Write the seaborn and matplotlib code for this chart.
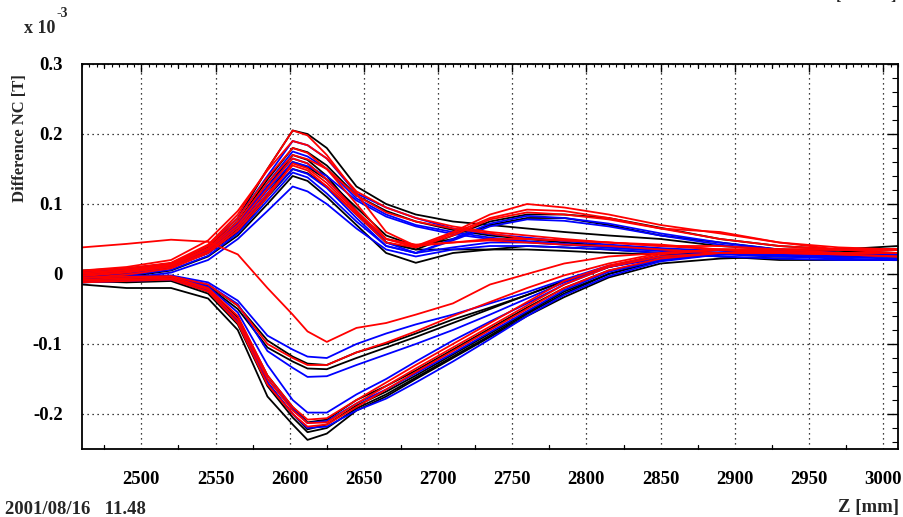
import numpy as np
import pandas as pd
import matplotlib
matplotlib.use("Agg")
import matplotlib.pyplot as plt
from matplotlib.ticker import MultipleLocator, FixedLocator
import seaborn as sns

# Z positions (mm) shared by every measured curve
z_mm = [2460, 2490, 2520, 2545, 2565, 2585, 2602, 2612, 2625, 2645, 2665,
        2685, 2710, 2735, 2760, 2785, 2815, 2850, 2890, 2930, 2970, 3010]

# field difference, in units of 1e-3 T
black_curves = [
    [0.005, 0.008, 0.015, 0.040, 0.080, 0.150, 0.205, 0.200, 0.180, 0.125, 0.100, 0.085, 0.075, 0.070, 0.065, 0.060, 0.055, 0.050, 0.040, 0.035, 0.030, 0.030],
    [0.000, 0.004, 0.012, 0.035, 0.070, 0.125, 0.170, 0.163, 0.140, 0.090, 0.045, 0.035, 0.055, 0.075, 0.085, 0.085, 0.080, 0.066, 0.050, 0.040, 0.035, 0.035],
    [-0.005, 0.000, 0.010, 0.030, 0.065, 0.115, 0.160, 0.153, 0.135, 0.095, 0.055, 0.040, 0.050, 0.070, 0.080, 0.080, 0.070, 0.055, 0.045, 0.035, 0.030, 0.030],
    [0.002, 0.006, 0.014, 0.038, 0.075, 0.135, 0.180, 0.174, 0.155, 0.112, 0.090, 0.075, 0.063, 0.055, 0.050, 0.045, 0.040, 0.035, 0.030, 0.025, 0.025, 0.025],
    [-0.008, -0.004, 0.005, 0.025, 0.055, 0.100, 0.140, 0.133, 0.110, 0.070, 0.030, 0.016, 0.030, 0.035, 0.040, 0.038, 0.035, 0.030, 0.025, 0.020, 0.020, 0.020],
    [-0.003, 0.002, 0.010, 0.030, 0.060, 0.110, 0.150, 0.144, 0.125, 0.085, 0.045, 0.035, 0.035, 0.035, 0.035, 0.033, 0.030, 0.028, 0.030, 0.030, 0.035, 0.040],
    [-0.015, -0.020, -0.020, -0.035, -0.080, -0.175, -0.215, -0.237, -0.228, -0.195, -0.175, -0.150, -0.120, -0.090, -0.060, -0.033, -0.005, 0.015, 0.022, 0.025, 0.025, 0.025],
    [-0.010, -0.008, -0.006, -0.022, -0.062, -0.145, -0.190, -0.212, -0.208, -0.180, -0.160, -0.138, -0.108, -0.078, -0.048, -0.020, 0.005, 0.020, 0.030, 0.030, 0.030, 0.030],
    [-0.012, -0.010, -0.008, -0.025, -0.068, -0.155, -0.200, -0.222, -0.215, -0.188, -0.168, -0.145, -0.115, -0.085, -0.055, -0.025, 0.000, 0.020, 0.030, 0.033, 0.033, 0.030],
    [-0.006, -0.005, -0.004, -0.016, -0.045, -0.095, -0.118, -0.128, -0.130, -0.112, -0.100, -0.085, -0.065, -0.048, -0.030, -0.010, 0.010, 0.025, 0.030, 0.030, 0.030, 0.030],
    [-0.008, -0.006, -0.005, -0.018, -0.050, -0.105, -0.125, -0.135, -0.136, -0.120, -0.105, -0.090, -0.070, -0.050, -0.030, -0.010, 0.010, 0.025, 0.030, 0.030, 0.030, 0.030],
    [-0.010, -0.012, -0.010, -0.028, -0.072, -0.160, -0.205, -0.226, -0.220, -0.192, -0.172, -0.148, -0.118, -0.088, -0.057, -0.028, 0.000, 0.020, 0.030, 0.030, 0.030, 0.030],
]

blue_curves = [
    [0.003, 0.007, 0.015, 0.040, 0.080, 0.140, 0.190, 0.184, 0.165, 0.115, 0.095, 0.080, 0.065, 0.057, 0.052, 0.047, 0.042, 0.037, 0.033, 0.030, 0.028, 0.027],
    [-0.010, -0.006, 0.002, 0.020, 0.050, 0.090, 0.125, 0.118, 0.100, 0.065, 0.035, 0.025, 0.035, 0.040, 0.040, 0.038, 0.035, 0.030, 0.025, 0.022, 0.020, 0.020],
    [0.000, 0.004, 0.013, 0.036, 0.072, 0.125, 0.165, 0.158, 0.135, 0.090, 0.045, 0.030, 0.050, 0.072, 0.083, 0.080, 0.072, 0.058, 0.045, 0.035, 0.030, 0.028],
    [-0.004, 0.000, 0.010, 0.030, 0.062, 0.112, 0.150, 0.143, 0.123, 0.080, 0.040, 0.030, 0.048, 0.068, 0.078, 0.076, 0.068, 0.055, 0.042, 0.033, 0.030, 0.028],
    [0.000, 0.005, 0.012, 0.035, 0.072, 0.130, 0.175, 0.168, 0.150, 0.108, 0.085, 0.070, 0.060, 0.052, 0.047, 0.043, 0.038, 0.033, 0.030, 0.028, 0.026, 0.025],
    [-0.006, -0.002, 0.006, 0.026, 0.058, 0.105, 0.145, 0.138, 0.115, 0.075, 0.040, 0.030, 0.038, 0.045, 0.045, 0.042, 0.038, 0.033, 0.028, 0.025, 0.022, 0.020],
    [-0.002, 0.003, 0.011, 0.033, 0.068, 0.120, 0.160, 0.154, 0.140, 0.105, 0.082, 0.068, 0.057, 0.050, 0.046, 0.042, 0.038, 0.034, 0.030, 0.027, 0.024, 0.022],
    [-0.005, -0.004, -0.003, -0.018, -0.055, -0.130, -0.180, -0.198, -0.198, -0.172, -0.150, -0.125, -0.095, -0.068, -0.042, -0.015, 0.010, 0.025, 0.030, 0.030, 0.030, 0.030],
    [-0.008, -0.008, -0.007, -0.024, -0.068, -0.155, -0.200, -0.220, -0.218, -0.195, -0.178, -0.155, -0.125, -0.093, -0.060, -0.030, -0.003, 0.018, 0.028, 0.030, 0.030, 0.030],
    [-0.012, -0.010, -0.008, -0.024, -0.065, -0.150, -0.193, -0.213, -0.210, -0.185, -0.165, -0.142, -0.113, -0.083, -0.053, -0.023, 0.003, 0.020, 0.028, 0.030, 0.030, 0.030],
    [-0.006, -0.005, -0.003, -0.015, -0.043, -0.110, -0.134, -0.147, -0.146, -0.130, -0.115, -0.100, -0.080, -0.058, -0.035, -0.012, 0.010, 0.022, 0.028, 0.030, 0.030, 0.030],
    [-0.004, -0.003, -0.002, -0.012, -0.038, -0.088, -0.108, -0.118, -0.120, -0.100, -0.085, -0.072, -0.058, -0.042, -0.026, -0.008, 0.012, 0.025, 0.030, 0.030, 0.030, 0.030],
]

red_curves = [
    [0.004, 0.008, 0.016, 0.042, 0.085, 0.150, 0.205, 0.198, 0.170, 0.115, 0.060, 0.040, 0.060, 0.085, 0.100, 0.095, 0.085, 0.070, 0.058, 0.045, 0.038, 0.035],
    [0.002, 0.006, 0.014, 0.040, 0.080, 0.138, 0.180, 0.173, 0.150, 0.100, 0.050, 0.038, 0.058, 0.080, 0.092, 0.090, 0.080, 0.065, 0.050, 0.040, 0.035, 0.035],
    [0.005, 0.010, 0.020, 0.048, 0.090, 0.148, 0.190, 0.184, 0.165, 0.118, 0.095, 0.080, 0.068, 0.060, 0.055, 0.050, 0.045, 0.040, 0.035, 0.032, 0.030, 0.030],
    [-0.002, 0.003, 0.012, 0.035, 0.070, 0.122, 0.165, 0.158, 0.135, 0.090, 0.050, 0.040, 0.045, 0.050, 0.050, 0.048, 0.045, 0.040, 0.040, 0.035, 0.030, 0.030],
    [0.000, 0.005, 0.013, 0.037, 0.075, 0.130, 0.170, 0.164, 0.150, 0.112, 0.088, 0.075, 0.065, 0.058, 0.050, 0.048, 0.045, 0.042, 0.035, 0.030, 0.028, 0.025],
    [-0.003, 0.002, 0.010, 0.032, 0.066, 0.115, 0.155, 0.148, 0.125, 0.085, 0.045, 0.038, 0.055, 0.078, 0.088, 0.085, 0.078, 0.065, 0.060, 0.045, 0.035, 0.030],
    [-0.006, -0.001, 0.008, 0.030, 0.062, 0.110, 0.158, 0.151, 0.130, 0.088, 0.050, 0.042, 0.045, 0.048, 0.045, 0.042, 0.040, 0.035, 0.030, 0.030, 0.028, 0.025],
    [0.038, 0.043, 0.049, 0.046, 0.028, -0.020, -0.058, -0.082, -0.097, -0.077, -0.070, -0.058, -0.042, -0.015, 0.000, 0.015, 0.025, 0.030, 0.035, 0.035, 0.035, 0.035],
    [-0.005, -0.004, -0.003, -0.015, -0.045, -0.100, -0.120, -0.130, -0.130, -0.112, -0.098, -0.082, -0.060, -0.040, -0.020, -0.002, 0.015, 0.030, 0.035, 0.035, 0.035, 0.035],
    [-0.010, -0.008, -0.006, -0.022, -0.065, -0.150, -0.195, -0.213, -0.212, -0.185, -0.160, -0.135, -0.105, -0.075, -0.045, -0.015, 0.010, 0.025, 0.030, 0.035, 0.035, 0.035],
    [-0.008, -0.006, -0.004, -0.020, -0.060, -0.145, -0.190, -0.208, -0.206, -0.180, -0.155, -0.130, -0.100, -0.070, -0.040, -0.010, 0.012, 0.028, 0.035, 0.035, 0.035, 0.035],
    [-0.012, -0.010, -0.008, -0.025, -0.070, -0.158, -0.200, -0.218, -0.215, -0.190, -0.165, -0.140, -0.110, -0.080, -0.050, -0.020, 0.005, 0.022, 0.030, 0.030, 0.030, 0.030],
]

x_ticks = [2500, 2550, 2600, 2650, 2700, 2750, 2800, 2850, 2900, 2950, 3000]
y_ticks = [-0.2, -0.1, 0.0, 0.1, 0.2, 0.3]
y_tick_labels = ["-0.2", "-0.1", "0", "0.1", "0.2", "0.3"]

# long-form table for seaborn
rows = []
for color, curves in [("black", black_curves), ("blue", blue_curves), ("red", red_curves)]:
    for i, vals in enumerate(curves):
        for z, v in zip(z_mm, vals):
            rows.append({"z": z, "b": v, "color": color, "curve": f"{color}{i}"})
df = pd.DataFrame(rows)

sns.set_style("white")
plt.rcParams["font.family"] = ["Liberation Serif", "DejaVu Serif"]
plt.rcParams["font.weight"] = "bold"

W, H = 904, 517
fig = plt.figure(figsize=(W / 100, H / 100), dpi=100)
ax = fig.add_axes([82 / W, 1 - 449 / H, (898 - 82) / W, (449 - 64) / H])

sns.lineplot(data=df, x="z", y="b", hue="color", units="curve", estimator=None,
             palette={"black": "#000000", "blue": "#0000ff", "red": "#ff0000"},
             hue_order=["black", "blue", "red"], sort=False, legend=False,
             linewidth=1.3, ax=ax)

ax.set_xlim(2460, 3010)
ax.set_ylim(-0.25, 0.3)
ax.xaxis.set_major_locator(FixedLocator(x_ticks))
ax.xaxis.set_minor_locator(MultipleLocator(5))
ax.yaxis.set_major_locator(FixedLocator(y_ticks))
ax.yaxis.set_minor_locator(MultipleLocator(0.02))
ax.set_yticklabels(y_tick_labels)
ax.tick_params(which="both", direction="in", top=True, right=True, colors="black")
ax.tick_params(axis="x", which="major", length=6, width=1.0, pad=16, labelsize=13.5)
ax.tick_params(axis="x", which="minor", length=2.5, width=0.8)
ax.tick_params(axis="y", which="major", length=8, width=1.0, pad=14, labelsize=13.5)
ax.tick_params(axis="y", which="minor", length=4, width=0.8)
for lab in ax.get_xticklabels() + ax.get_yticklabels():
    lab.set_fontweight("bold")

# mid-level ticks every 25 mm, as on the original axis
for zt in range(2475, 3010, 50):
    ax.plot([zt, zt], [-0.25, -0.244], color="black", lw=0.9, clip_on=False)
    ax.plot([zt, zt], [0.3, 0.294], color="black", lw=0.9, clip_on=False)

ax.grid(True, which="major", linestyle=(0, (1, 3)), color="black", linewidth=0.9)
for s in ax.spines.values():
    s.set_color("black")
    s.set_linewidth(1.3)
ax.set_xlabel("")
ax.set_ylabel("")

fig.text(24 / W, 1 - 33 / H, "x 10", fontsize=13, fontweight="bold")
fig.text(57 / W, 1 - 17 / H, "-3", fontsize=10, fontweight="bold")
fig.text(20 / W, 1 - 74 / H, "Difference NC [T]", rotation=90, ha="center", va="top",
         fontsize=12, fontweight="bold")
fig.text(899 / W, 1 - 512 / H, "Z [mm]", ha="right", va="baseline", fontsize=13.5, fontweight="bold")
fig.text(5 / W, 1 - 514 / H, "2001/08/16   11.48", ha="left", va="baseline",
         fontsize=13.5, fontweight="bold")
fig.text(897 / W, 1.0, "[            ]", ha="right", va="baseline", fontsize=12)

fig.savefig("out.png", dpi=100)
